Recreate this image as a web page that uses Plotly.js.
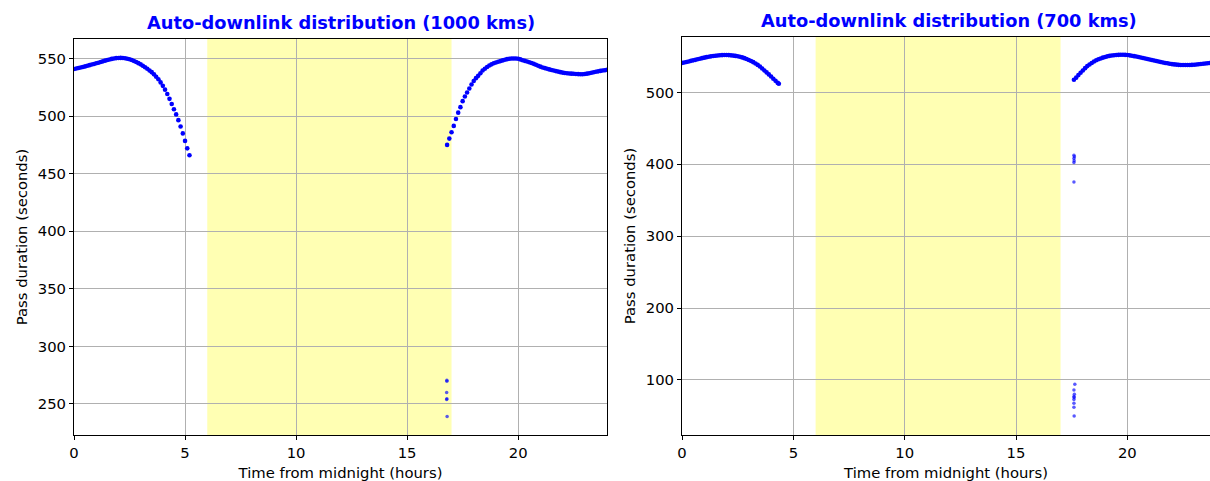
<!DOCTYPE html>
<html>
<head>
<meta charset="utf-8">
<script src="https://cdn.plot.ly/plotly-3.0.1.min.js"></script>
<style>html,body{margin:0;padding:0;background:#fff;}#chart{width:1210px;height:481px;}</style>
</head>
<body>
<div id="chart"></div>
<script>
// ---- Data (hours from midnight, pass duration in seconds) ----
const titles = ["Auto-downlink distribution (1000 kms)", "Auto-downlink distribution (700 kms)"];
const xTickVals = [0, 5, 10, 15, 20];
const leftYTicks = [250, 300, 350, 400, 450, 500, 550];
const rightYTicks = [100, 200, 300, 400, 500];
const daylight = [6, 17];

// 1000 km: early-morning passes
const km1000MorningX = [0.0,0.1,0.2,0.3,0.4,0.5,0.6,0.7,0.8,0.9,1.0,1.1,1.2,1.3,1.4,1.5,1.6,1.7,1.8,1.9,2.0,2.1,2.2,2.3,2.4,2.5,2.6,2.7,2.8,2.9,3.0,3.1,3.2,3.3,3.4,3.5,3.6,3.7,3.8,3.9,4.0,4.1,4.2,4.3,4.4,4.5,4.6,4.7,4.8,4.9,5.0,5.1,5.2];
const km1000MorningY = [541.0,541.4,541.8,542.2,542.7,543.2,543.7,544.3,544.8,545.3,545.9,546.4,547.0,547.6,548.2,548.7,549.2,549.7,550.1,550.4,550.5,550.6,550.5,550.3,549.9,549.4,548.7,547.9,547.0,546.0,545.0,543.8,542.5,541.1,539.7,538.2,536.3,534.2,532.0,529.3,526.3,523.0,519.2,515.0,510.5,506.0,501.5,496.5,491.0,485.0,478.5,472.0,466.0];
// 1000 km: evening passes
const km1000EveningX = [16.8,16.9,17.0,17.1,17.2,17.3,17.4,17.5,17.6,17.7,17.8,17.9,18.0,18.1,18.2,18.3,18.4,18.5,18.6,18.7,18.8,18.9,19.0,19.1,19.2,19.3,19.4,19.5,19.6,19.7,19.8,19.9,20.0,20.1,20.2,20.3,20.4,20.5,20.6,20.7,20.8,20.9,21.0,21.1,21.2,21.3,21.4,21.5,21.6,21.7,21.8,21.9,22.0,22.1,22.2,22.3,22.4,22.5,22.6,22.7,22.8,22.9,23.0,23.1,23.2,23.3,23.4,23.5,23.6,23.7,23.8,23.9,24.0];
const km1000EveningY = [475.0,480.5,486.0,491.5,497.5,503.0,507.8,513.0,517.0,520.5,524.0,527.5,530.5,533.0,535.0,537.3,539.6,541.2,542.7,544.0,545.0,545.9,546.6,547.2,547.8,548.4,549.0,549.5,549.8,550.0,550.1,550.0,549.8,549.3,548.6,548.0,547.4,546.8,546.1,545.4,544.6,543.8,543.0,542.3,541.7,541.1,540.6,540.1,539.6,539.1,538.7,538.2,537.8,537.5,537.2,537.0,536.9,536.8,536.6,536.5,536.4,536.4,536.6,536.9,537.3,537.7,538.1,538.5,538.9,539.3,539.6,539.9,540.3];
// 1000 km: short outlier passes
const km1000OutlierX = [16.79,16.79,16.78,16.79,16.78,16.8];
const km1000OutlierY = [270.5,269.8,260.0,254.5,253.8,239.0];

// 700 km: early-morning passes
const km700MorningX = [0.0,0.1,0.2,0.3,0.4,0.5,0.6,0.7,0.8,0.9,1.0,1.1,1.2,1.3,1.4,1.5,1.6,1.7,1.8,1.9,2.0,2.1,2.2,2.3,2.4,2.5,2.6,2.7,2.8,2.9,3.0,3.1,3.2,3.3,3.4,3.5,3.6,3.7,3.8,3.9,4.0,4.1,4.2,4.3,4.35];
const km700MorningY = [541.0,541.6,542.3,543.0,543.8,544.5,545.2,546.0,546.8,547.6,548.3,549.0,549.6,550.1,550.6,551.0,551.3,551.6,551.8,551.9,551.9,551.8,551.5,551.1,550.7,550.2,549.5,548.6,547.6,546.4,545.1,543.7,542.0,540.2,538.2,535.9,533.2,530.5,527.8,525.0,522.0,519.0,516.0,513.2,512.0];
// 700 km: evening passes
const km700EveningX = [17.6,17.7,17.8,17.9,18.0,18.1,18.2,18.3,18.4,18.5,18.6,18.7,18.8,18.9,19.0,19.1,19.2,19.3,19.4,19.5,19.6,19.7,19.8,19.9,20.0,20.1,20.2,20.3,20.4,20.5,20.6,20.7,20.8,20.9,21.0,21.1,21.2,21.3,21.4,21.5,21.6,21.7,21.8,21.9,22.0,22.1,22.2,22.3,22.4,22.5,22.6,22.7,22.8,22.9,23.0,23.1,23.2,23.3,23.4,23.5,23.6,23.7,23.8,23.9,24.0];
const km700EveningY = [517.5,520.5,524.0,527.3,530.5,533.7,536.5,538.8,540.9,542.9,544.7,546.0,547.2,548.3,549.2,550.1,550.8,551.3,551.7,552.0,552.2,552.3,552.3,552.2,551.9,551.5,551.0,550.4,549.8,549.2,548.5,547.8,547.1,546.4,545.7,545.1,544.4,543.6,542.9,542.2,541.5,540.9,540.4,539.9,539.3,538.9,538.6,538.3,538.1,538.0,538.0,538.0,538.1,538.3,538.5,538.8,539.1,539.5,539.9,540.2,540.5,540.8,541.1,541.4,541.6];
// 700 km: short outlier passes
const km700OutlierX = [17.6,17.62,17.6,17.61,17.6,17.6,17.64,17.6,17.62,17.6,17.61,17.6,17.6,17.6,17.61];
const km700OutlierY = [412.5,410.5,408.0,405.0,402.5,375.5,94.0,86.0,80.0,77.0,75.5,73.0,67.5,62.0,50.0];

// ---- Styling ----
const W = 1210, H = 481;
const FONT = "DejaVu Sans, Liberation Sans, sans-serif";
const FS = 14.8;
const px = v => v / W, py = v => 1 - v / H;

function curve(x, y, xa, ya) {
  return {type: "scatter", mode: "markers", x: x, y: y, xaxis: xa, yaxis: ya,
    marker: {color: "rgb(0,0,255)", size: 4.6, line: {width: 0}}, hoverinfo: "skip", showlegend: false};
}
function outliers(x, y, xa, ya) {
  return {type: "scatter", mode: "markers", x: x, y: y, xaxis: xa, yaxis: ya,
    marker: {color: "rgba(0,0,255,0.65)", size: 3.5, line: {width: 0}}, hoverinfo: "skip", showlegend: false};
}

const traces = [
  curve(km1000MorningX, km1000MorningY, "x", "y"),
  curve(km1000EveningX, km1000EveningY, "x", "y"),
  outliers(km1000OutlierX, km1000OutlierY, "x", "y"),
  curve(km700MorningX, km700MorningY, "x2", "y2"),
  curve(km700EveningX, km700EveningY, "x2", "y2"),
  outliers(km700OutlierX, km700OutlierY, "x2", "y2")
];

function xax(domain, range, anchor) {
  return {domain: domain, range: range, anchor: anchor, tickvals: xTickVals,
    ticks: "outside", ticklen: 4, tickwidth: 1, tickcolor: "#000",
    showline: true, mirror: true, linecolor: "#000", linewidth: 1,
    showgrid: true, gridcolor: "#b0b0b0", gridwidth: 1, zeroline: false,
    tickfont: {family: FONT, size: FS, color: "#000"},
    title: {text: "Time from midnight (hours)", font: {family: FONT, size: FS, color: "#000"}, standoff: 8}};
}
function yax(domain, range, anchor, ticks) {
  return {domain: domain, range: range, anchor: anchor, tickvals: ticks,
    ticks: "outside", ticklen: 4, tickwidth: 1, tickcolor: "#000",
    showline: true, mirror: true, linecolor: "#000", linewidth: 1,
    showgrid: true, gridcolor: "#b0b0b0", gridwidth: 1, zeroline: false,
    tickfont: {family: FONT, size: FS, color: "#000"},
    title: {text: "Pass duration (seconds)", font: {family: FONT, size: FS, color: "#000"}, standoff: 6}};
}

const layout = {
  width: W, height: H,
  margin: {l: 0, r: 0, t: 0, b: 0},
  paper_bgcolor: "#fff", plot_bgcolor: "#fff",
  showlegend: false,
  xaxis: xax([px(74), px(607)], [0, 24], "y"),
  yaxis: yax([py(435), py(39)], [223, 567], "x", leftYTicks),
  xaxis2: xax([px(682), 1], [0, 23.71], "y2"),
  yaxis2: yax([py(435), py(37)], [23.5, 577], "x2", rightYTicks),
  shapes: [
    {type: "rect", xref: "x", yref: "y domain", x0: daylight[0], x1: daylight[1], y0: 0, y1: 1,
     fillcolor: "#ffffb3", line: {width: 0}, layer: "below"},
    {type: "rect", xref: "x2", yref: "y2 domain", x0: daylight[0], x1: daylight[1], y0: 0, y1: 1,
     fillcolor: "#ffffb3", line: {width: 0}, layer: "below"}
  ],
  annotations: [
    {text: "<b>" + titles[0] + "</b>", xref: "paper", yref: "paper", x: px(341), y: py(22),
     xanchor: "center", yanchor: "middle", showarrow: false, font: {family: FONT, size: 17.8, color: "#0000ff"}},
    {text: "<b>" + titles[1] + "</b>", xref: "paper", yref: "paper", x: px(949), y: py(20),
     xanchor: "center", yanchor: "middle", showarrow: false, font: {family: FONT, size: 17.8, color: "#0000ff"}}
  ]
};

Plotly.newPlot("chart", traces, layout, {staticPlot: true, displayModeBar: false});
</script>
</body>
</html>
